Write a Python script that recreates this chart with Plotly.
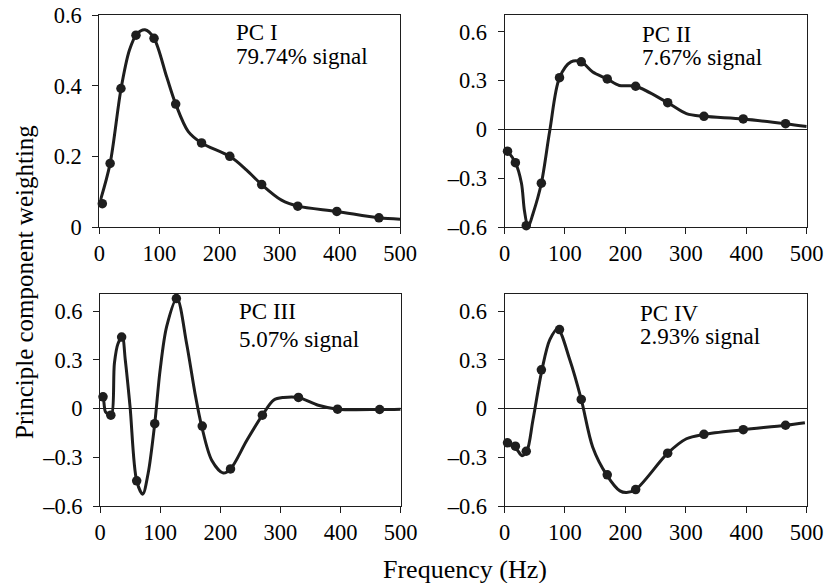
import plotly.graph_objects as go

W, H = 838, 583

# ---- data ----
freq = [5, 18, 36, 61, 91, 127, 170, 217, 270, 330, 395, 465]

pc1 = [0.066, 0.18, 0.392, 0.543, 0.534, 0.348, 0.238, 0.200, 0.120, 0.059, 0.044, 0.026]
pc2 = [-0.134, -0.205, -0.592, -0.331, 0.318, 0.415, 0.31, 0.265, 0.164, 0.08, 0.064, 0.035]
pc3 = [0.072, -0.041, 0.44, -0.445, -0.093, 0.677, -0.108, -0.372, -0.041, 0.068, -0.004, -0.006]
pc4 = [-0.211, -0.232, -0.263, 0.238, 0.486, 0.056, -0.408, -0.499, -0.275, -0.159, -0.13, -0.103]

# fitted curves
c1_x = [2, 18, 36, 50, 62, 76, 91, 112, 127, 148, 170, 217, 245, 270, 303, 330, 395, 465, 500]
c1_y = [0.076, 0.18, 0.39, 0.50, 0.545, 0.558, 0.534, 0.425, 0.348, 0.27, 0.238, 0.2, 0.161, 0.12, 0.076, 0.059, 0.044, 0.026, 0.022]

c2_x = [2, 5, 18, 28, 33, 39, 47, 61, 75, 91, 110, 127, 146, 170, 190, 217, 270, 301, 330, 395, 465, 500]
c2_y = [-0.125, -0.134, -0.205, -0.33, -0.50, -0.60, -0.52, -0.331, -0.006, 0.318, 0.415, 0.415, 0.353, 0.31, 0.27, 0.265, 0.164, 0.097, 0.08, 0.064, 0.035, 0.018]

c3_x = [2, 5, 9, 14, 19, 24, 30, 37, 42, 50, 61, 71, 80, 91, 100, 111, 128, 144, 158, 169, 186, 205, 217, 244, 270, 289, 305, 330, 363, 395, 465, 500]
c3_y = [0.083, 0.072, -0.02, -0.035, -0.041, 0.28, 0.40, 0.44, 0.30, 0.01, -0.445, -0.527, -0.40, -0.093, 0.238, 0.507, 0.677, 0.40, 0.093, -0.108, -0.32, -0.397, -0.372, -0.197, -0.041, 0.052, 0.068, 0.068, 0.02, -0.004, -0.006, -0.004]

c4_x = [2, 5, 19, 29, 37, 47, 62, 75, 88, 108, 127, 146, 169, 191, 202, 217, 270, 301, 330, 395, 465, 497]
c4_y = [-0.21, -0.211, -0.245, -0.29, -0.263, -0.072, 0.238, 0.424, 0.49, 0.30, 0.056, -0.238, -0.408, -0.507, -0.517, -0.499, -0.275, -0.186, -0.159, -0.13, -0.103, -0.087]

labels = ["PC I", "PC II", "PC III", "PC IV"]
signals = ["79.74% signal", "7.67% signal", "5.07% signal", "2.93% signal"]

x_ticks = [0, 100, 200, 300, 400, 500]
y1_ticks = [0, 0.2, 0.4, 0.6]
y1_text = ["0", "0.2", "0.4", "0.6"]
y_ticks = [-0.6, -0.3, 0, 0.3, 0.6]
y_text = ["\u20130.6", "\u20130.3", "0", "0.3", "0.6"]

# ---- layout geometry (pixels) ----
FONT = "Liberation Serif, Times New Roman, serif"
INK = "#1e1e1e"
panels = [
    dict(x0=99.3, x1=400.0, y0=15.0, y1=227.0),
    dict(x0=504.5, x1=806.7, y0=15.0, y1=227.0),
    dict(x0=100.0, x1=400.7, y0=294.3, y1=506.0),
    dict(x0=504.5, x1=806.7, y0=294.3, y1=506.0),
]

fig = go.Figure()
markers = [pc1, pc2, pc3, pc4]
curves = [(c1_x, c1_y), (c2_x, c2_y), (c3_x, c3_y), (c4_x, c4_y)]

for i in range(4):
    xa = "x" if i == 0 else f"x{i+1}"
    ya = "y" if i == 0 else f"y{i+1}"
    cx, cy = curves[i]
    fig.add_trace(go.Scatter(x=cx, y=cy, mode="lines", xaxis=xa, yaxis=ya,
                             line=dict(color=INK, width=3, shape="spline", smoothing=0.9),
                             showlegend=False, hoverinfo="skip"))
    fig.add_trace(go.Scatter(x=freq, y=markers[i], mode="markers", xaxis=xa, yaxis=ya,
                             marker=dict(color=INK, size=9.5), cliponaxis=False,
                             showlegend=False))

layout = dict(
    template="none",
    width=W, height=H,
    margin=dict(l=0, r=0, t=0, b=0, pad=0),
    paper_bgcolor="white", plot_bgcolor="white",
    font=dict(family=FONT, size=22, color="black"),
    showlegend=False,
)

for i, p in enumerate(panels):
    xk = "xaxis" if i == 0 else f"xaxis{i+1}"
    yk = "yaxis" if i == 0 else f"yaxis{i+1}"
    xa_ref = "y" if i == 0 else f"y{i+1}"
    ya_ref = "x" if i == 0 else f"x{i+1}"
    layout[xk] = dict(
        domain=[p["x0"] / W, p["x1"] / W], anchor=xa_ref, automargin=False,
        range=[0, 500], tickvals=x_ticks, ticktext=[str(t) for t in x_ticks],
        showline=True, linecolor=INK, linewidth=1, mirror=True,
        ticks="outside", ticklen=6, tickcolor=INK, tickwidth=1,
        showgrid=False, zeroline=False, ticklabelstandoff=0,
        tickfont=dict(family=FONT, size=22.5, color="black"),
    )
    if i == 0:
        yr, tv, tt, zl = [0, 0.6], y1_ticks, y1_text, False
    else:
        yr, tv, tt, zl = [-0.6, 0.703], y_ticks, y_text, True
    layout[yk] = dict(
        domain=[1 - p["y1"] / H, 1 - p["y0"] / H], anchor=ya_ref, automargin=False,
        range=yr, tickvals=tv, ticktext=tt,
        showline=True, linecolor=INK, linewidth=1, mirror=True,
        ticks="outside", ticklen=6, tickcolor=INK, tickwidth=1, showgrid=False,
        zeroline=zl, zerolinecolor=INK, zerolinewidth=1, ticklabelstandoff=6,
        tickfont=dict(family=FONT, size=22.5, color="black"),
    )

fig.update_layout(**layout)

# panel annotations (pixel positions -> paper)
ann_pos = [
    (236, 32.5, 56.5),
    (642, 34.0, 57.5),
    (239, 311.0, 339.5),
    (640, 313.0, 336.5),
]
for i, (px, py1, py2) in enumerate(ann_pos):
    fig.add_annotation(x=px / W, y=1 - py1 / H, xref="paper", yref="paper",
                       text=labels[i], showarrow=False, xanchor="left", yanchor="middle",
                       xshift=-2, font=dict(family=FONT, size=23, color="black"))
    fig.add_annotation(x=px / W, y=1 - py2 / H, xref="paper", yref="paper",
                       text=signals[i], showarrow=False, xanchor="left", yanchor="middle",
                       xshift=-2, font=dict(family=FONT, size=23, color="black"))

fig.add_annotation(x=465 / W, y=1 - 569 / H, xref="paper", yref="paper",
                   text="Frequency (Hz)", showarrow=False, xanchor="center", yanchor="middle",
                   font=dict(family=FONT, size=26, color="black"))
fig.add_annotation(x=24 / W, y=1 - 282 / H, xref="paper", yref="paper",
                   text="Principle component weighting", showarrow=False, textangle=-90,
                   xanchor="center", yanchor="middle",
                   font=dict(family=FONT, size=25, color="black"))

fig.write_html("out.html",
               config={"displayModeBar": False},
               post_script="document.body.style.margin='0';document.body.style.overflow='hidden';")
